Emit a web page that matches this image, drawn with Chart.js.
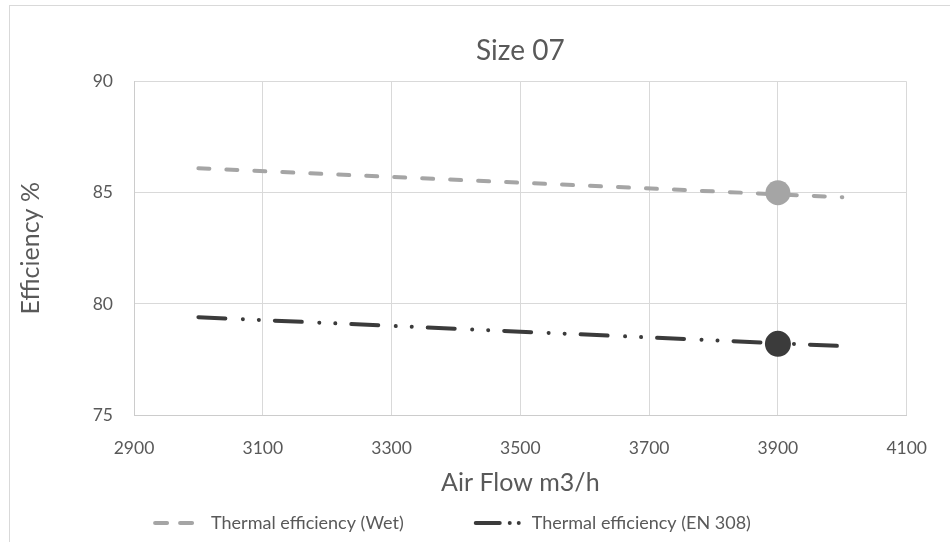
<!DOCTYPE html>
<html><head><meta charset="utf-8">
<script src="https://cdn.jsdelivr.net/npm/chart.js@4/dist/chart.umd.min.js"></script>
<style>
html,body{margin:0;padding:0;background:#fff;overflow:hidden;}
#wrap{position:relative;width:950px;height:542px;overflow:hidden;}
#frame{position:absolute;left:9px;top:5px;width:980px;height:580px;border:1px solid #d9d9d9;}
canvas{position:absolute;left:0;top:0;}
</style></head><body>
<div id="wrap"><div id="frame"></div><canvas id="c" width="950" height="542"></canvas></div>
<script>
const chartTitle = 'Size 07';
const xAxisTitle = 'Air Flow m3/h';
const yAxisTitle = 'Efficiency %';
const seriesNames = ['Thermal efficiency (Wet)', 'Thermal efficiency (EN 308)'];
const airFlow = [3000, 4000];
const wetEfficiency = [86.1, 84.8];
const en308Efficiency = [79.4, 78.1];
const markerAirFlow = [3900];
const markerWet = [85.0];
const markerEn308 = [78.2];
const xRange = [2900, 4100, 200];
const yRange = [75, 90, 5];

const FONT = 'Lato, "Open Sans", sans-serif';
const TXT = '#595959';
const WET = '#A5A5A5';
const DARK = '#3B3B3B';
const wetDash = [11, 17];
const enDash = [27, 17.5, 0.01, 16, 0.01, 16];

const pts = (xs, ys) => xs.map((x, i) => ({x: x, y: ys[i]}));

const legendPlugin = {
  id: 'customLegend',
  afterDraw(chart) {
    const ctx = chart.ctx;
    const items = [
      {label: seriesNames[0], color: WET, dash: [12, 13]},
      {label: seriesNames[1], color: DARK, dash: [24, 10, 0.01, 9, 0.01, 60]}
    ];
    const symW = 52, gapText = 6, gapItem = 70, y = 523;
    ctx.save();
    ctx.font = '18px ' + FONT;
    const widths = items.map(it => symW + gapText + ctx.measureText(it.label).width);
    const total = widths.reduce((a, b) => a + b, 0) + gapItem;
    let x = 452 - total / 2;
    items.forEach((it, i) => {
      ctx.strokeStyle = it.color;
      ctx.lineWidth = 4;
      ctx.lineCap = 'round';
      ctx.setLineDash(it.dash);
      ctx.beginPath();
      ctx.moveTo(x + 2, y);
      ctx.lineTo(x + symW - 2, y);
      ctx.stroke();
      ctx.setLineDash([]);
      ctx.fillStyle = TXT;
      ctx.textBaseline = 'middle';
      ctx.textAlign = 'left';
      ctx.fillText(it.label, x + symW + gapText, y);
      x += widths[i] + gapItem;
    });
    ctx.restore();
  }
};

new Chart(document.getElementById('c'), {
  type: 'scatter',
  data: {
    datasets: [
      {label: seriesNames[0] + ' point', data: pts(markerAirFlow, markerWet), pointRadius: 12.5, pointBackgroundColor: WET, pointBorderWidth: 0, showLine: false, order: 0},
      {label: seriesNames[1] + ' point', data: pts(markerAirFlow, markerEn308), pointRadius: 13, pointBackgroundColor: DARK, pointBorderWidth: 0, showLine: false, order: 0},
      {label: seriesNames[0], data: pts(airFlow, wetEfficiency), showLine: true, borderColor: WET, borderWidth: 4, borderDash: wetDash, borderCapStyle: 'round', pointRadius: 0, fill: false, order: 1},
      {label: seriesNames[1], data: pts(airFlow, en308Efficiency), showLine: true, borderColor: DARK, borderWidth: 4, borderDash: enDash, borderCapStyle: 'round', pointRadius: 0, fill: false, order: 1}
    ]
  },
  options: {
    responsive: false,
    devicePixelRatio: 1,
    animation: false,
    layout: {padding: {left: 0, right: 37, top: 0, bottom: 36}},
    plugins: {
      legend: {display: false},
      tooltip: {enabled: false},
      title: {display: true, text: chartTitle, fullSize: false, color: TXT, font: {family: FONT, size: 28, weight: 'normal'}, padding: {top: 34, bottom: 14}}
    },
    scales: {
      x: {
        type: 'linear', min: xRange[0], max: xRange[1],
        ticks: {stepSize: xRange[2], color: TXT, font: {family: FONT, size: 17.5}, padding: 23, maxRotation: 0, callback: v => String(v)},
        grid: {color: '#D9D9D9', drawTicks: false},
        border: {color: '#CCCCCC'},
        title: {display: true, text: xAxisTitle, color: TXT, font: {family: FONT, size: 25}, padding: {top: 0, bottom: 8}},
        afterFit(s) { s.height = 91; }
      },
      y: {
        type: 'linear', min: yRange[0], max: yRange[1],
        ticks: {stepSize: yRange[2], color: TXT, font: {family: FONT, size: 17.5}, padding: 21, callback: v => String(v)},
        grid: {color: '#D9D9D9', drawTicks: false},
        border: {color: '#CCCCCC'},
        title: {display: true, text: yAxisTitle, color: TXT, font: {family: FONT, size: 25}, padding: {top: 16, bottom: 0}},
        afterFit(s) { s.width = 134; }
      }
    }
  },
  plugins: [legendPlugin]
});
</script>
</body></html>
